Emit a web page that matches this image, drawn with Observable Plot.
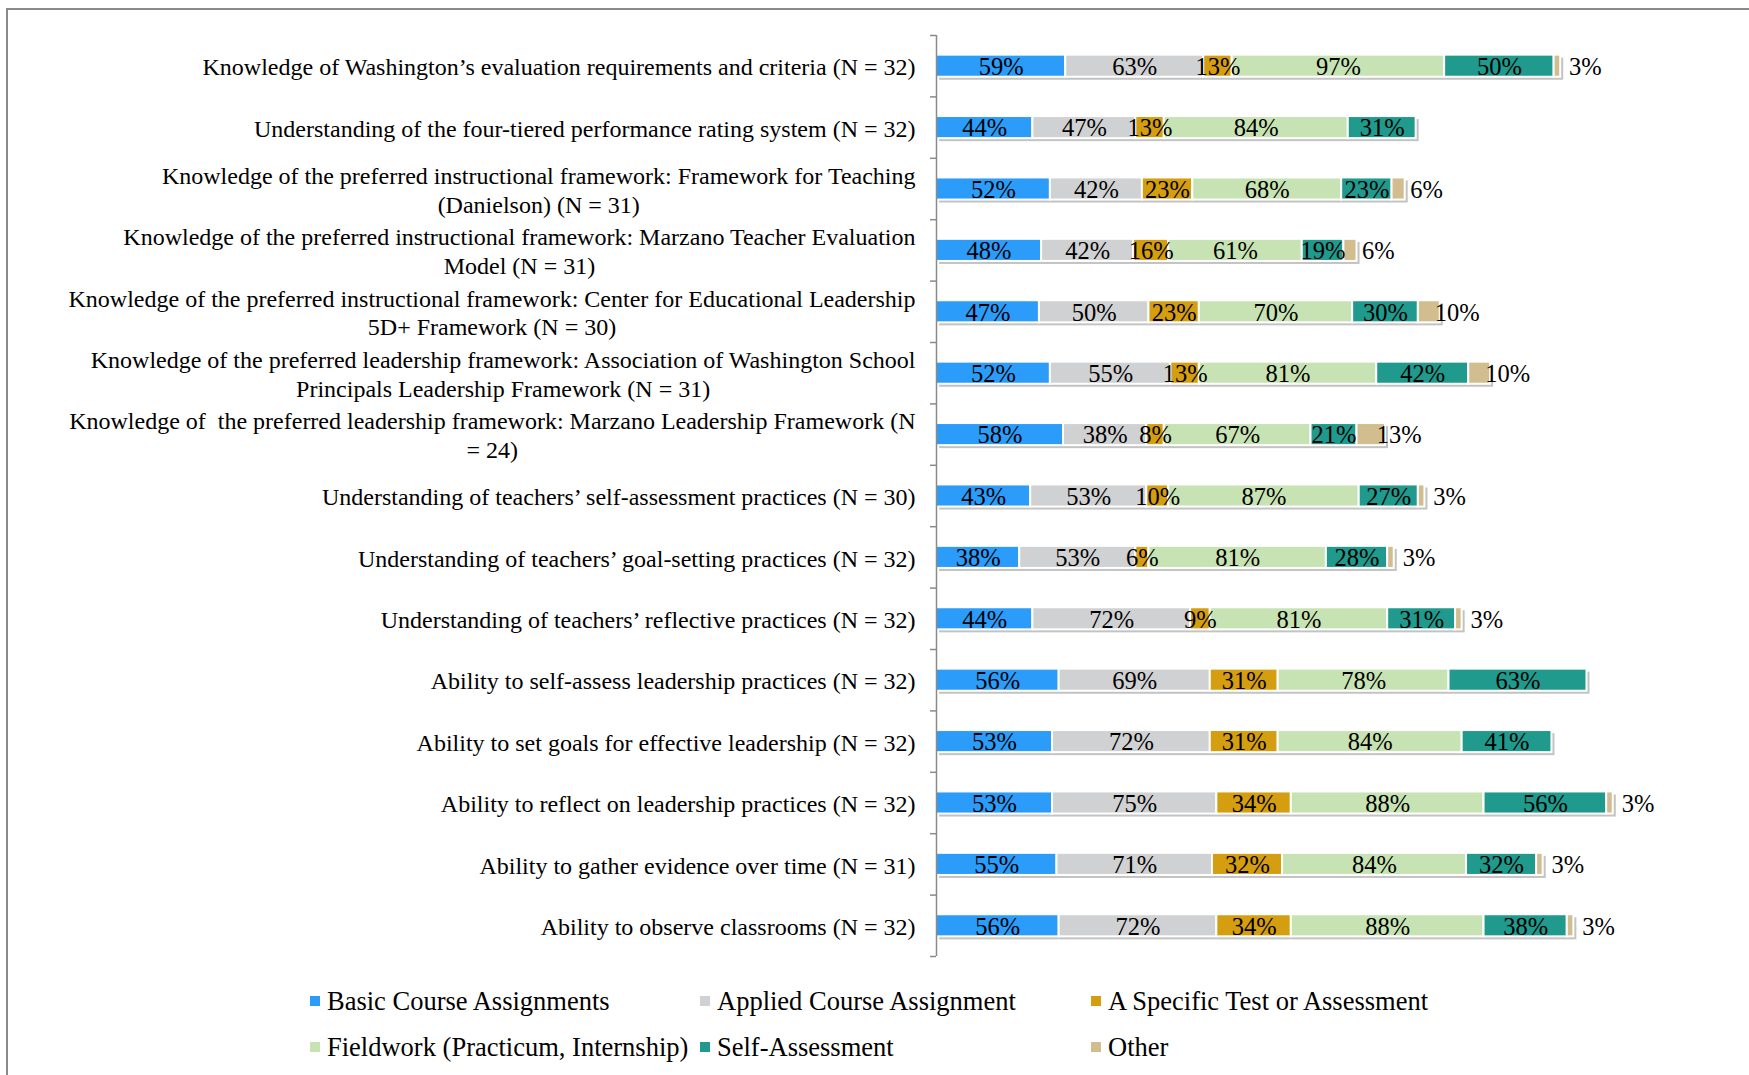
<!DOCTYPE html>
<html>
<head>
<meta charset="utf-8">
<script src="https://cdn.jsdelivr.net/npm/d3@7"></script>
<script src="https://cdn.jsdelivr.net/npm/@observablehq/plot@0.6"></script>
<style>
  html, body { margin: 0; padding: 0; background: #fff; }
  #wrap { position: relative; width: 1749px; height: 1075px; overflow: hidden; font-family: "Liberation Serif", "Times New Roman", serif; }
  #frame { position: absolute; left: 6px; top: 8px; width: 2000px; height: 2000px; border-left: 2px solid #8a8a8a; border-top: 2px solid #8a8a8a; box-sizing: border-box; }
  #chart { position: absolute; left: 0; top: 0; }
  #legend { position: absolute; left: 310px; top: 978px; display: grid; grid-template-columns: 390px 391px 420px; grid-auto-rows: 46px; font-size: 26.5px; color: #000; }
  .item { display: flex; align-items: center; white-space: nowrap; }
  .sw { width: 10px; height: 10px; margin-right: 7px; flex: none; }
</style>
</head>
<body>
<div id="wrap">
  <div id="frame"></div>
  <div id="chart"></div>
  <div id="legend"></div>
</div>
<script>
const categories = [
  "Knowledge of Washington’s evaluation requirements and criteria (N = 32)",
  "Understanding of the four-tiered performance rating system (N = 32)",
  "Knowledge of the preferred instructional framework: Framework for Teaching\n(Danielson) (N = 31)",
  "Knowledge of the preferred instructional framework: Marzano Teacher Evaluation\nModel (N = 31)",
  "Knowledge of the preferred instructional framework: Center for Educational Leadership\n5D+ Framework (N = 30)",
  "Knowledge of the preferred leadership framework: Association of Washington School\nPrincipals Leadership Framework (N = 31)",
  "Knowledge of  the preferred leadership framework: Marzano Leadership Framework (N\n= 24)",
  "Understanding of teachers’ self-assessment practices (N = 30)",
  "Understanding of teachers’ goal-setting practices (N = 32)",
  "Understanding of teachers’ reflective practices (N = 32)",
  "Ability to self-assess leadership practices (N = 32)",
  "Ability to set goals for effective leadership (N = 32)",
  "Ability to reflect on leadership practices (N = 32)",
  "Ability to gather evidence over time (N = 31)",
  "Ability to observe classrooms (N = 32)"
];
const seriesNames = [
  "Basic Course Assignments",
  "Applied Course Assignment",
  "A Specific Test or Assessment",
  "Fieldwork (Practicum, Internship)",
  "Self-Assessment",
  "Other"
];
const seriesColors = ["#2b9cf9", "#d0d1d3", "#d49e10", "#c7e3b3", "#1f9a8c", "#d2bd8e"];

const basic     = [59, 44, 52, 48, 47, 52, 58, 43, 38, 44, 56, 53, 53, 55, 56];
const applied   = [63, 47, 42, 42, 50, 55, 38, 53, 53, 72, 69, 72, 75, 71, 72];
const test      = [13, 13, 23, 16, 23, 13,  8, 10,  6,  9, 31, 31, 34, 32, 34];
const fieldwork = [97, 84, 68, 61, 70, 81, 67, 87, 81, 81, 78, 84, 88, 84, 88];
const selfAss   = [50, 31, 23, 19, 30, 42, 21, 27, 28, 31, 63, 41, 56, 32, 38];
const other     = [ 3,  0,  6,  6, 10, 10, 13,  3,  3,  3,  0,  0,  3,  3,  3];

const seriesValues = [basic, applied, test, fieldwork, selfAss, other];

// Build stacked segments
const segments = [];
const totals = [];
categories.forEach((c, i) => {
  let acc = 0;
  seriesValues.forEach((vals, s) => {
    const v = vals[i];
    if (v > 0) {
      segments.push({row: i, series: seriesNames[s], s, x1: acc, x2: acc + v, mid: acc + v / 2, label: v + "%"});
    }
    acc += v;
  });
  totals.push({row: i, total: acc});
});

const half = 0.18;
const rows = categories.map((c, i) => ({row: i, label: c}));

const plot = Plot.plot({
  width: 1749,
  height: 966,
  marginLeft: 936,
  marginRight: 53,
  marginTop: 35,
  marginBottom: 10,
  style: {fontFamily: "'Liberation Serif', 'Times New Roman', serif", fontSize: "24px", color: "#000", background: "transparent"},
  x: {domain: [0, 347], axis: null},
  y: {domain: [-0.5, categories.length - 0.5], reverse: true, axis: null},
  color: {domain: seriesNames, range: seriesColors},
  marks: [
    Plot.rectX(totals, {x1: 0, x2: "total", y1: d => d.row - half, y2: d => d.row + half, dx: 3, dy: 3, fill: "#7a7a7a", fillOpacity: 0.45, ariaLabel: "shadow"}),
    Plot.rectX(segments, {x1: "x1", x2: "x2", y1: d => d.row - half, y2: d => d.row + half, fill: "series", stroke: "#fff", strokeWidth: 2}),
    Plot.text(segments.filter(d => d.series !== "Other"), {x: "mid", y: "row", text: "label", fill: "#000", fontSize: 24.5, dy: 1}),
    Plot.text(segments.filter(d => d.series === "Other"), {x: "mid", y: "row", text: "label", fill: "#000", fontSize: 24.5, dx: 28, dy: 1}),
    Plot.ruleX([0], {stroke: "#8a8a8a", strokeWidth: 1.5}),
    Plot.axisY({ticks: d3.range(categories.length + 1).map(i => i - 0.5), tickSize: 6, tickFormat: () => "", label: null, stroke: "#8a8a8a", strokeWidth: 1.5}),
    Plot.text(rows, {x: 0, y: "row", text: "label", textAnchor: "end", dx: -21, lineHeight: 1.2, fill: "#000", fontSize: 24, ariaLabel: "catlabels"})
  ]
});

document.getElementById("chart").appendChild(plot);

// Shadow blur filter
const ns = "http://www.w3.org/2000/svg";
const defs = document.createElementNS(ns, "defs");
const filter = document.createElementNS(ns, "filter");
filter.setAttribute("id", "barShadow");
filter.setAttribute("x", "-5%"); filter.setAttribute("y", "-50%");
filter.setAttribute("width", "110%"); filter.setAttribute("height", "200%");
const blur = document.createElementNS(ns, "feGaussianBlur");
blur.setAttribute("stdDeviation", "1.6");
filter.appendChild(blur);
defs.appendChild(filter);
plot.insertBefore(defs, plot.firstChild);
const sh = plot.querySelector("g[aria-label='shadow']");
if (sh) sh.setAttribute("filter", "url(#barShadow)");

// Center continuation lines of wrapped category labels under the first line
const wrapped = new Set(categories.filter(c => c.includes("\n")).map(c => c.replace(/\n/g, "")));
plot.querySelectorAll("text").forEach(t => {
  const spans = t.querySelectorAll("tspan");
  if (spans.length > 1 && wrapped.has(t.textContent.replace(/\n/g, ""))) {
    const w = spans[0].getComputedTextLength();
    t.setAttribute("text-anchor", "middle");
    t.style.textAnchor = "middle";
    spans.forEach(sp => {
      sp.setAttribute("x", (-w / 2).toFixed(1));
      sp.style.textAnchor = "middle";
    });
  }
});

// Legend
const legend = document.getElementById("legend");
seriesNames.forEach((name, i) => {
  const it = document.createElement("div");
  it.className = "item";
  const sw = document.createElement("span");
  sw.className = "sw";
  sw.style.background = seriesColors[i];
  const tx = document.createElement("span");
  tx.textContent = name;
  it.appendChild(sw); it.appendChild(tx);
  legend.appendChild(it);
});
</script>
</body>
</html>
